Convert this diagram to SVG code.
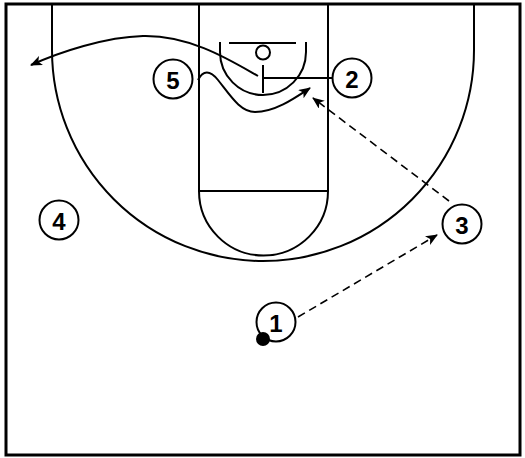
<svg xmlns="http://www.w3.org/2000/svg" width="525" height="458" viewBox="0 0 525 458">
<defs>
<style>
.court{fill:none;stroke:#000;stroke-width:2}
.player circle{fill:#fff;stroke:#000;stroke-width:2}
.player text{font-family:"Liberation Sans",Arial,sans-serif;font-weight:bold;font-size:24px;text-anchor:middle;dominant-baseline:central;fill:#000}
.cut{fill:none;stroke:#000;stroke-width:2}
.pass{fill:none;stroke:#000;stroke-width:1.6;stroke-dasharray:8,5}
</style>
<marker id="ah" viewBox="0 0 12 10" refX="11" refY="5" markerWidth="12" markerHeight="10" markerUnits="userSpaceOnUse" orient="auto">
<path d="M0,0 L12,5 L0,10 L3,5 Z" fill="#000"/>
</marker>
</defs>
<rect width="525" height="458" fill="#fff"/>
<g id="court">
<rect x="6" y="4" width="514" height="451" fill="none" stroke="#000" stroke-width="3"/>
<path class="court" d="M52,4 L52,50 A211,211 0 0 0 474,50 L474,4"/>
<rect class="court" x="199" y="4" width="129" height="187"/>
<path class="court" d="M199,191 A64.5,64.5 0 0 0 328,191"/>
<line class="court" x1="229" y1="43" x2="296" y2="43"/>
<circle class="court" cx="263" cy="52.5" r="7"/>
<path class="court" d="M220,42 L220,52 A43,43 0 0 0 306,52 L306,42"/>
</g>
<g id="connectors">
<path class="cut" d="M258,76 C230,60 190,35 143,36 C105,37 60,52 31,65" marker-end="url(#ah)"/>
<path class="cut" d="M198,80 C203,70 210,70 218,80 C230,95 240,112 255,112 C275,112 295,98 310,88" marker-end="url(#ah)"/>
<line class="cut" x1="333" y1="78" x2="263" y2="78"/>
<line class="cut" x1="263" y1="65" x2="263" y2="93"/>
<line class="pass" x1="449" y1="201" x2="313" y2="98" marker-end="url(#ah)"/>
<line class="pass" x1="298" y1="317" x2="437" y2="235" marker-end="url(#ah)"/>
</g>
<g id="p5" class="player"><circle cx="173" cy="79" r="19.5"/><text x="173" y="80">5</text></g>
<g id="p2" class="player"><circle cx="352" cy="78" r="19.5"/><text x="352" y="79">2</text></g>
<g id="p3" class="player"><circle cx="462" cy="224" r="19.5"/><text x="462" y="225">3</text></g>
<g id="p4" class="player"><circle cx="59" cy="220" r="19.5"/><text x="59" y="221">4</text></g>
<g id="p1" class="player"><circle cx="276" cy="322" r="19.5"/><text x="276" y="323">1</text></g>
<g id="ball"><circle cx="263" cy="339" r="7" fill="#000"/></g>
</svg>
